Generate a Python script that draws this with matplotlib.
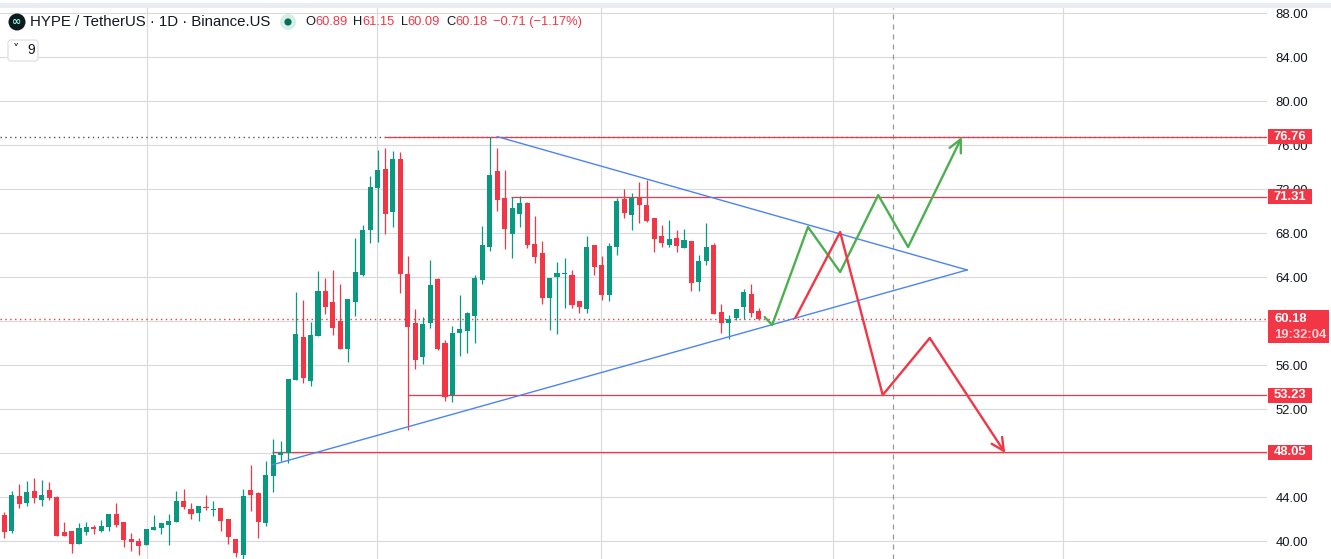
import matplotlib
matplotlib.use("Agg")
import matplotlib.pyplot as plt
from matplotlib.patches import Rectangle, Circle, FancyBboxPatch
from matplotlib.transforms import IdentityTransform

# daily candles, HYPE / TetherUS
opens = [42.36, 40.94, 44.09, 43.48, 44.54, 43.75, 44.63, 44.00, 40.81, 40.91,
         39.75, 40.84, 41.27, 40.94, 41.30, 42.45, 41.72, 40.18, 40.00, 39.67,
         41.03, 41.21, 41.45, 41.76, 43.64, 42.91, 42.58, 43.09, 42.85, 43.00,
         42.00, 40.18, 38.76, 44.64, 44.36, 41.67, 45.94, 47.84, 47.97, 54.66,
         58.54, 54.57, 58.66, 62.72, 61.72, 60.00, 57.48, 61.76, 64.18, 68.30,
         72.12, 73.81, 69.94, 74.72, 64.27, 59.81, 56.75, 59.84, 63.81, 58.00,
         53.30, 58.94, 59.12, 60.48, 63.76, 66.76, 73.63, 71.18, 67.91, 69.72,
         70.72, 67.00, 66.18, 62.12, 64.03, 64.30, 64.18, 61.82, 61.13, 66.91,
         65.09, 62.40, 66.73, 71.09, 69.67, 71.28, 70.55, 69.37, 67.73, 66.94,
         67.54, 66.67, 67.27, 63.57, 65.45, 66.91, 60.82, 59.85, 60.30, 61.27,
         62.45, 60.89]
highs = [42.67, 44.54, 45.18, 45.45, 45.72, 45.54, 45.36, 44.05, 41.72, 40.91,
         41.63, 41.72, 41.45, 41.91, 42.45, 43.45, 41.72, 40.72, 40.30, 41.09,
         42.36, 41.64, 42.45, 44.55, 44.73, 43.45, 43.18, 44.18, 43.64, 43.00,
         42.00, 40.18, 44.73, 46.91, 44.45, 47.27, 49.27, 49.09, 54.72, 62.63,
         61.91, 59.91, 64.54, 63.91, 64.63, 63.36, 62.00, 67.57, 68.72, 73.18,
         75.54, 75.72, 75.45, 75.36, 65.91, 61.09, 60.36, 65.54, 63.90, 58.27,
         59.54, 62.36, 60.80, 64.18, 68.63, 76.76, 75.72, 73.72, 71.27, 71.36,
         70.80, 69.55, 67.28, 63.91, 65.37, 65.73, 64.64, 61.82, 67.73, 66.91,
         65.91, 67.09, 71.18, 72.00, 71.64, 72.64, 72.82, 69.37, 68.73, 69.18,
         68.27, 68.36, 67.27, 66.00, 68.91, 67.09, 61.54, 60.54, 61.10, 62.91,
         63.36, 61.15]
lows = [40.30, 40.75, 43.03, 43.21, 43.42, 43.21, 43.72, 40.45, 40.45, 38.94,
        39.75, 40.57, 40.66, 40.85, 40.94, 41.30, 39.48, 39.12, 38.76, 39.67,
        40.97, 40.67, 39.67, 41.76, 42.91, 42.00, 41.85, 42.82, 42.27, 40.91,
        39.76, 38.58, 38.40, 42.76, 40.30, 41.39, 44.48, 47.30, 47.06, 54.66,
        54.39, 54.12, 58.66, 60.66, 58.75, 57.48, 56.30, 60.48, 64.09, 67.12,
        67.21, 67.94, 68.57, 62.57, 50.10, 55.66, 56.12, 59.39, 57.39, 52.76,
        52.66, 56.84, 57.12, 58.03, 63.39, 66.39, 70.00, 66.54, 65.72, 68.54,
        66.63, 65.31, 61.58, 59.21, 58.85, 61.21, 61.21, 60.76, 60.76, 64.21,
        61.94, 61.85, 66.00, 69.40, 68.28, 68.94, 69.03, 66.28, 66.73, 66.76,
        66.30, 66.67, 62.76, 62.76, 65.09, 60.64, 58.94, 58.39, 60.12, 60.18,
        60.36, 60.09]
closes = [40.85, 44.18, 43.39, 44.45, 43.94, 44.18, 43.88, 40.48, 40.48, 39.75,
          41.18, 41.27, 41.09, 41.36, 42.45, 41.48, 40.12, 39.94, 39.58, 41.09,
          41.27, 41.64, 41.82, 43.64, 43.09, 42.48, 43.18, 43.00, 42.91, 41.85,
          40.39, 38.94, 44.09, 44.18, 41.76, 46.00, 47.82, 48.09, 54.72, 58.81,
          54.81, 58.72, 62.72, 61.30, 59.39, 57.48, 62.00, 64.45, 68.27, 72.18,
          73.72, 69.75, 74.72, 64.30, 59.48, 56.48, 59.72, 63.27, 57.48, 53.12,
          58.91, 59.27, 60.75, 63.91, 66.91, 73.27, 71.00, 68.36, 70.27, 70.72,
          66.91, 65.85, 62.12, 63.91, 64.37, 64.37, 61.49, 61.31, 66.73, 64.94,
          62.40, 66.82, 70.91, 69.85, 71.18, 70.58, 69.12, 67.46, 67.09, 67.45,
          66.85, 67.36, 63.48, 65.45, 66.73, 60.64, 59.85, 60.18, 61.09, 62.64,
          60.73, 60.18]

# month separators (candle index) and the projected dashed day
month_lines = [19.1, 49.9, 79.9, 110.9, 141.7]
dashed_day = 119

# price scale labels (60 and 48 sit under the tag boxes)
price_ticks = [40, 44, 52, 56, 64, 68, 72, 76, 80, 84, 88]
grid_prices = list(range(40, 89, 4))

# drawn levels
level_top = 76.76
level_res = 71.31
level_sup = 53.23
level_low = 48.05
last_price = 60.18

# triangle: (index, price)
tri_upper = ([66.0, 128.9], [76.76, 64.64])
tri_lower = ([35.8, 128.9], [46.91, 64.64])

# scenario paths
green_x = [101.8, 102.8, 107.6, 111.9, 117.0, 121.0, 128.2]
green_y = [60.36, 59.64, 68.55, 64.45, 71.45, 66.73, 76.73]
red_x = [105.9, 111.9, 117.6, 123.9, 134.0]
red_y = [60.27, 68.09, 53.27, 58.45, 48.00]

UP = '#089981'
DOWN = '#F23645'
GRID = '#DADADA'
TXT = '#131722'
W, H = 1331, 559

plt.rcParams['font.family'] = ['Liberation Sans', 'DejaVu Sans']

fig = plt.figure(figsize=(W / 100, H / 100), dpi=100)
ax = fig.add_axes([0, 0, 1267 / W, 551 / H])
ax.set_xlim(-0.576, 169.05)
ax.set_ylim(38.364, 88.455)

# grid
for p in grid_prices:
    ax.axhline(p, color=GRID, lw=0.8, zorder=0)
for m in month_lines:
    ax.axvline(m, color=GRID, lw=0.8, zorder=0)
ax.axvline(dashed_day, color='#9598A1', lw=0.9, ls=(0, (4, 4)), zorder=1)

# candles
idx = list(range(len(opens)))
cols = [UP if c >= o else DOWN for o, c in zip(opens, closes)]
ax.vlines(idx, lows, highs, colors=cols, lw=0.9, zorder=3)
bottoms = [min(o, c) for o, c in zip(opens, closes)]
heights = [max(abs(c - o), 0.09) for o, c in zip(opens, closes)]
ax.bar(idx, heights, bottom=bottoms, width=0.68, color=cols, zorder=3)

# levels
ax.axhline(level_top, color='#555555', lw=1, ls=(0, (1, 2.5)), zorder=2)
ax.hlines(level_top, 50.97, 169.05, color=DOWN, lw=0.9, zorder=2)
ax.hlines(level_res, 67.84, 169.05, color=DOWN, lw=0.9, zorder=2)
ax.hlines(level_sup, 54.05, 169.05, color=DOWN, lw=0.9, zorder=2)
ax.hlines(level_low, 35.8, 169.05, color=DOWN, lw=0.9, zorder=2)
ax.axhline(last_price, color=DOWN, lw=1, ls=(0, (1, 2.5)), zorder=2)

# triangle
ax.plot(*tri_upper, color='#4C84F5', lw=1, zorder=4)
ax.plot(*tri_lower, color='#4C84F5', lw=1, zorder=4)

# scenarios
for xs, ys, c in [(green_x, green_y, '#4CAF50'), (red_x, red_y, DOWN)]:
    ax.plot(xs[:-1], ys[:-1], color=c, lw=1.7, zorder=5, solid_capstyle='round')
    ax.annotate('', xy=(xs[-1], ys[-1]), xytext=(xs[-2], ys[-2]),
                arrowprops=dict(arrowstyle='->,head_length=0.9,head_width=0.45',
                                color=c, lw=1.7, shrinkA=0, shrinkB=0), zorder=5)

# price scale
ax.yaxis.tick_right()
ax.set_yticks(price_ticks)
ax.set_yticklabels([f"{p:.2f}" for p in price_ticks], fontsize=9.4, color=TXT)
ax.tick_params(axis='y', length=0, pad=6)
ax.set_xticks([])
for s in ax.spines.values():
    s.set_visible(False)

ytr = ax.get_yaxis_transform()
for lv in [level_top, level_res, level_sup, level_low]:
    ax.add_patch(Rectangle((1.0008, lv - 0.7), 44 / 1267, 1.4, transform=ytr,
                           fc=DOWN, ec='none', clip_on=False, zorder=8))
    ax.text(1.0008 + 22 / 1267, lv, f"{lv:.2f}", transform=ytr, ha='center',
            va='center', color='white', fontsize=9.4, fontweight='bold',
            clip_on=False, zorder=9)
ax.add_patch(Rectangle((1.0008, 58.0), 61 / 1267, 3.0, transform=ytr,
                       fc=DOWN, ec='none', clip_on=False, zorder=8))
ax.text(1.0008 + 6 / 1267, 60.2, f"{last_price:.2f}", transform=ytr, ha='left',
        va='center', color='white', fontsize=9.4, fontweight='bold', clip_on=False, zorder=9)
ax.text(1.0008 + 6 / 1267, 58.75, "19:32:04", transform=ytr, ha='left',
        va='center', color='#FFD6DA', fontsize=9.4, fontweight='bold', clip_on=False, zorder=9)

# top strip
fig.add_artist(Rectangle((0, 1 - 8 / H), 1, 5 / H, transform=fig.transFigure,
                         fc='#E9ECF1', ec='none'))

# header
px = IdentityTransform()
fig.add_artist(Circle((17, H - 22), 8.5, transform=px, fc='#0B1B1E', ec='none'))
fig.text(17 / W, 1 - 22 / H, "\u221e", color='#97FCE4', fontsize=8, fontweight='bold',
         ha='center', va='center', family=['DejaVu Sans'])
fig.text(30 / W, 1 - 22 / H, "HYPE / TetherUS · 1D · Binance.US", color=TXT,
         fontsize=10.8, ha='left', va='center')
fig.add_artist(Circle((288, H - 22), 8, transform=px, fc='#D3EFE7', ec='none'))
fig.add_artist(Circle((288, H - 22), 3.6, transform=px, fc='#0B6B58', ec='none'))

renderer = fig.canvas.get_renderer()
pieces = [("O", TXT, 0), ("60.89", DOWN, 6), ("H", TXT, 0), ("61.15", DOWN, 6),
          ("L", TXT, 0), ("60.09", DOWN, 6), ("C", TXT, 0), ("60.18", DOWN, 5),
          ("\u22120.71 (\u22121.17%)", DOWN, 0)]
x = 305
for t, c, gap in pieces:
    txt = fig.text(x / W, 1 - 22 / H, t, color=c, fontsize=9.3, ha='left', va='center')
    bb = txt.get_window_extent(renderer)
    x = bb.x1 + gap

fig.add_artist(FancyBboxPatch((8, H - 61), 30, 21, boxstyle='round,pad=0,rounding_size=3',
                              transform=px, fc='white', ec='#E0E3EB', lw=1))
fig.text(16 / W, 1 - 50 / H, "\u02c5", color=TXT, fontsize=9, ha='center', va='center',
         family=['DejaVu Sans'])
fig.text(27 / W, 1 - 50 / H, "9", color=TXT, fontsize=10, ha='left', va='center')

fig.savefig('out.png', dpi=100)
